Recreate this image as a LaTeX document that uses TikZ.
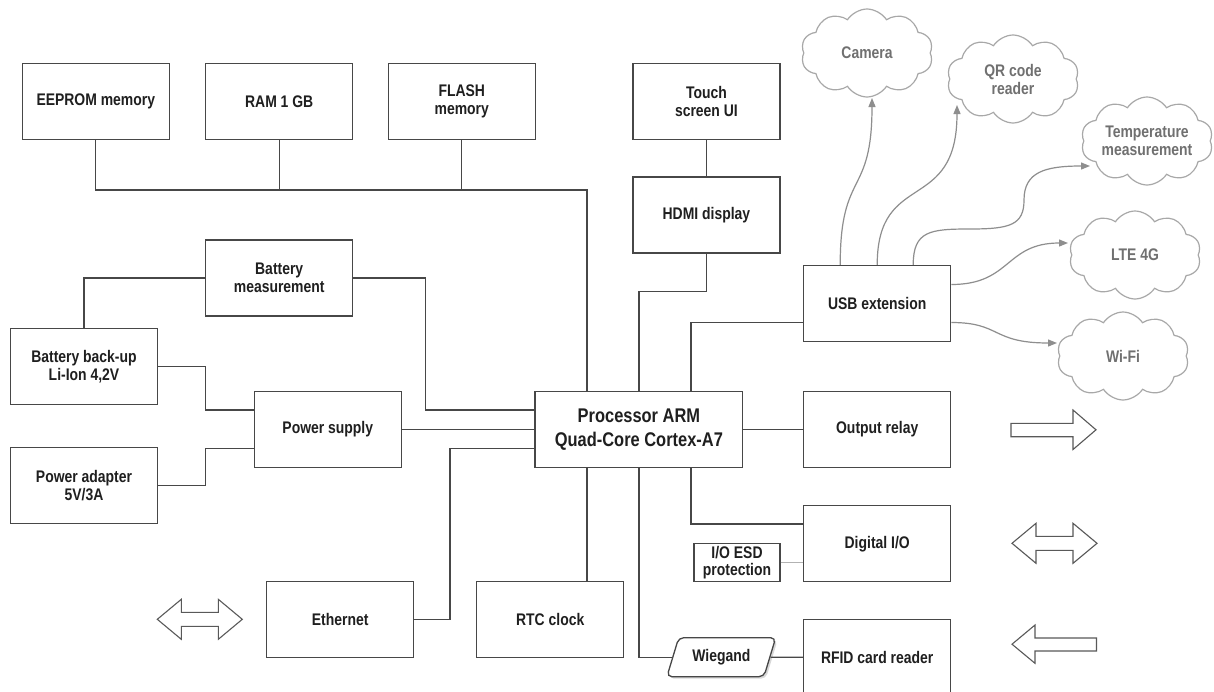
\documentclass[tikz,border=0pt]{standalone}
\usepackage{fontspec}
\setmainfont{Liberation Sans}
\newfontfamily\boxfont{Liberation Sans}[FakeStretch=0.83]
\usetikzlibrary{arrows.meta,shapes.geometric,shapes.symbols,shadows}
\definecolor{edge}{HTML}{474747}
\definecolor{cloudline}{HTML}{A8A8A8}
\definecolor{cloudtext}{HTML}{707070}
\definecolor{usbarrow}{HTML}{8E8E8E}

\begin{document}
\begin{tikzpicture}[x=1pt,y=-1pt,
  box/.style={draw=edge,line width=1.3pt,minimum width=147pt,minimum height=76pt,inner sep=0pt,align=center,text=black!88,font=\boxfont\bfseries\fontsize{16.8}{18}\selectfont},
  procbox/.style={minimum width=207.7pt,minimum height=75.6pt,font=\boxfont\bfseries\fontsize{19.8}{24}\selectfont},
  esdbox/.style={draw=edge,line width=1.3pt,minimum width=86pt,minimum height=38.4pt,inner sep=0pt,align=center,text=black!88,font=\boxfont\bfseries\fontsize{16.8}{17.5}\selectfont},
  wiegbox/.style={trapezium,trapezium left angle=63,trapezium right angle=117,trapezium stretches,draw=edge,line width=1.3pt,rounded corners=5pt,fill=white,minimum width=109pt,minimum height=39pt,inner sep=0pt,text=black!88,font=\boxfont\bfseries\fontsize{16.8}{18}\selectfont,drop shadow={opacity=0.3,shadow xshift=2pt,shadow yshift=-2pt}},
  cloudbox/.style={cloud,cloud puffs=10,cloud puff arc=115,cloud ignores aspect,draw=cloudline,line width=1.2pt,minimum width=132pt,minimum height=88pt,inner sep=0pt,align=center,text=cloudtext,font=\boxfont\bfseries\fontsize{16.8}{18}\selectfont},
  conn/.style={draw=edge,line width=1.3pt},
  esdline/.style={draw=black!30,line width=1.1pt},
  usbarr/.style={draw=usbarrow,line width=1.2pt,-{Triangle[length=9pt,width=7pt]}},
  blockarr/.style={draw=edge!90,line width=1.1pt,fill=white,line join=miter}]
  \fill[white] (0,0) rectangle (1214,691);
  \useasboundingbox (0,0) rectangle (1214,691);

  \node[box] (eeprom) at (95.8,101.3) {EEPROM memory};
  \node[box] (ram) at (279.2,101.3) {RAM 1 GB};
  \node[box] (flash) at (461.8,101.3) {FLASH\\memory};
  \node[box] (touch) at (706.4,101.3) {Touch\\screen UI};
  \node[box] (hdmi) at (706.4,215) {HDMI display};
  \node[box] (bmeas) at (279.2,278) {Battery\\measurement};
  \node[box] (backup) at (84,366.3) {Battery back-up\\Li-Ion 4,2V};
  \node[box] (adapter) at (84,485.3) {Power adapter\\5V/3A};
  \node[box] (psu) at (327.8,429.5) {Power supply};
  \node[box,procbox] (proc) at (638.9,429.5) {Processor ARM\\Quad-Core Cortex-A7};
  \node[box] (usb) at (877.2,303.5) {USB extension};
  \node[box] (relay) at (877.2,429.5) {Output relay};
  \node[box] (dio) at (877.2,543.7) {Digital I/O};
  \node[box] (rfid) at (877.2,657.2) {RFID card reader};
  \node[box] (eth) at (340.2,619.2) {Ethernet};
  \node[box] (rtc) at (550.2,619.2) {RTC clock};
  \node[esdbox] (esd) at (737,562.5) {I/O ESD\\protection};
  \node[wiegbox] (wieg) at (721.3,657.2) {Wiegand};

  \node[cloudbox] (cam) at (867,53) {Camera};
  \node[cloudbox] (qr) at (1013,79) {QR code\\reader};
  \node[cloudbox] (temp) at (1147,141) {Temperature\\measurement};
  \node[cloudbox] (lte) at (1135,255) {LTE 4G};
  \node[cloudbox] (wifi) at (1123,356) {Wi-Fi};

  \coordinate (busend) at (587,190);
  \coordinate (usbtap) at (691,322.3);
  \coordinate (bmtap) at (425.3,410);
  \coordinate (bktap) at (205.7,410);
  \coordinate (adtap) at (205.7,448.3);
  \coordinate (ethtap) at (450,448.3);
  \coordinate (diotap) at (691,524);

  \draw[conn] (eeprom.south) |- (busend) -- (busend |- proc.north);
  \draw[conn] (ram.south) -- (ram.south |- busend);
  \draw[conn] (flash.south) -- (flash.south |- busend);
  \draw[conn] (touch) -- (hdmi);
  \draw[conn] (hdmi.south) -- ++(0,38) -| (proc.north);
  \draw[conn] (usb.west |- usbtap) -| (usbtap |- proc.north);
  \draw[conn] (bmeas.west) -| (backup.north);
  \draw[conn] (bmeas.east) -| (bmtap) -- (bmtap -| proc.west);
  \draw[conn] (backup.east) -| (bktap) -- (bktap -| psu.west);
  \draw[conn] (adapter.east) -| (adtap) -- (adtap -| psu.west);
  \draw[conn] (psu) -- (proc);
  \draw[conn] (eth.east) -| (ethtap) -- (ethtap -| proc.west);
  \draw[conn] (proc) -- (relay);
  \draw[conn] (busend |- proc.south) -- (busend |- rtc.north);
  \draw[conn] (proc.south) |- (wieg.west);
  \draw[conn] (wieg) -- (rfid);
  \draw[conn] (usbtap |- proc.south) |- (diotap -| dio.west);
  \draw[esdline] (esd) -- (esd -| dio.west);

  \draw[usbarr] ([xshift=-37pt]usb.north) .. controls +(0,-96) and +(0,100) .. ([xshift=5pt,yshift=-45pt]cam.center);
  \draw[usbarr] (usb.north) .. controls +(0,-96) and +(0,110) .. ([xshift=-56pt,yshift=-26pt]qr.center);
  \draw[usbarr] ([xshift=36pt]usb.north) .. controls +(0,-34) and +(-40,0) .. (970,229) .. controls +(40,0) and +(0,25) .. (1024,200) .. controls +(0,-28) and +(-45,0) .. ([xshift=-57pt,yshift=-25pt]temp.center);
  \draw[usbarr] ([yshift=19pt]usb.east) .. controls +(60,0) and +(-63,0) .. ([xshift=-67pt,yshift=12pt]lte.center);
  \draw[usbarr] ([yshift=-19pt]usb.east) .. controls +(50,0) and +(-66,0) .. ([xshift=-66pt,yshift=13pt]wifi.center);

  \foreach \x/\y in {157.3/619.3,1012/543.3}
    \draw[blockarr] (\x,\y) -- ++(24,-20) -- ++(0,13) -- ++(37,0) -- ++(0,-13) -- ++(24,20) -- ++(-24,20) -- ++(0,-13) -- ++(-37,0) -- ++(0,13) -- cycle;
  \draw[blockarr] (1011,423.3) -- (1073,423.3) -- (1073,410) -- (1096,429.8) -- (1073,449.5) -- (1073,436.7) -- (1011,436.7) -- cycle;
  \draw[blockarr] (1096.5,638) -- (1035,638) -- (1035,625) -- (1012,644.2) -- (1035,663.3) -- (1035,651) -- (1096.5,651) -- cycle;
\end{tikzpicture}
\end{document}
